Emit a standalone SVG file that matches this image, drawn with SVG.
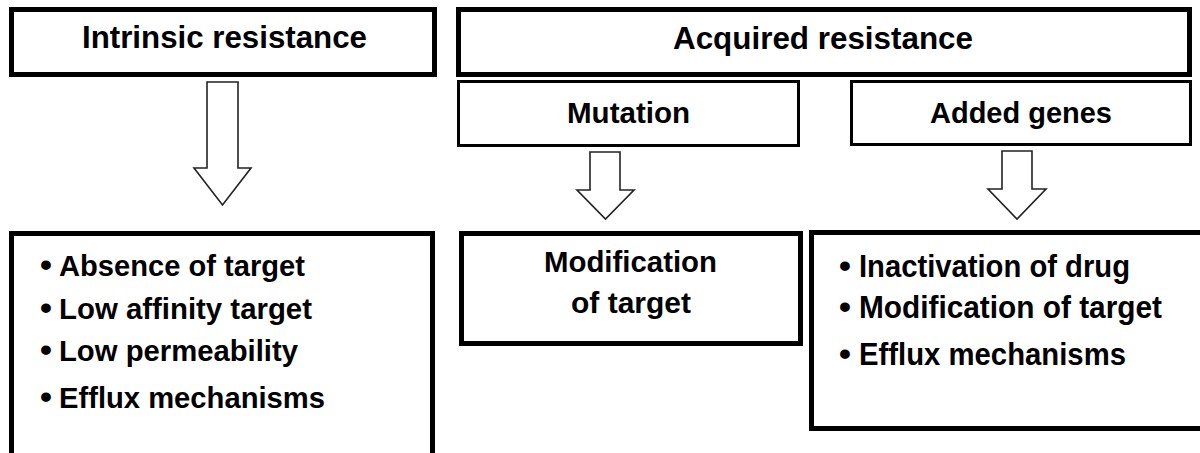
<svg xmlns="http://www.w3.org/2000/svg" width="1200" height="453" viewBox="0 0 1200 453">
  <style>
    .bg { fill: #ffffff; }
    .box-thick { fill: #ffffff; stroke: #000000; stroke-width: 5; }
    .box-thin { fill: #ffffff; stroke: #000000; stroke-width: 3; }
    .open { fill: none; stroke: #000000; stroke-width: 5; }
    .block-arrow { fill: #ffffff; stroke: #222222; stroke-width: 1.6; stroke-linejoin: miter; }
    text { font-family: "Liberation Sans", Arial, sans-serif; font-weight: bold; fill: #000000; }
    .title { font-size: 32px; text-anchor: middle; }
    .sub { font-size: 29px; text-anchor: middle; }
    .item { font-size: 29px; }
    .item-lg { font-size: 30.5px; }
    .dot { font-size: 34px; }
  </style>

  <rect class="bg" x="0" y="0" width="1200" height="453"/>

  <!-- Intrinsic branch -->
  <g id="intrinsic-title">
    <rect class="box-thick" x="11.5" y="9.5" width="423" height="65"/>
    <text class="title" x="224.5" y="48" textLength="285" lengthAdjust="spacingAndGlyphs">Intrinsic resistance</text>
  </g>

  <g id="intrinsic-list">
    <path class="open" d="M11.5,456 V233.5 H432.5 V456"/>
    <text class="item"><tspan class="dot" x="40" y="276">•</tspan><tspan x="59" y="276" textLength="246" lengthAdjust="spacingAndGlyphs">Absence of target</tspan></text>
    <text class="item"><tspan class="dot" x="40" y="319">•</tspan><tspan x="59" y="319" textLength="253" lengthAdjust="spacingAndGlyphs">Low affinity target</tspan></text>
    <text class="item"><tspan class="dot" x="40" y="361">•</tspan><tspan x="59" y="361" textLength="239" lengthAdjust="spacingAndGlyphs">Low permeability</tspan></text>
    <text class="item"><tspan class="dot" x="40" y="408">•</tspan><tspan x="59" y="408" textLength="266" lengthAdjust="spacingAndGlyphs">Efflux mechanisms</tspan></text>
  </g>

  <!-- Acquired branch -->
  <g id="acquired-title">
    <rect class="box-thick" x="458.5" y="9.5" width="731" height="65"/>
    <text class="title" x="823" y="49" textLength="300" lengthAdjust="spacingAndGlyphs">Acquired resistance</text>
  </g>

  <g id="mutation">
    <rect class="box-thin" x="458.5" y="81.5" width="340" height="64"/>
    <text class="sub" x="628.5" y="123" textLength="123" lengthAdjust="spacingAndGlyphs">Mutation</text>
  </g>

  <g id="added-genes">
    <rect class="box-thin" x="851.5" y="81.5" width="339" height="63"/>
    <text class="sub" x="1021" y="123" textLength="182" lengthAdjust="spacingAndGlyphs">Added genes</text>
  </g>

  <g id="modification">
    <rect class="box-thick" x="461.5" y="233.5" width="339" height="110"/>
    <text class="sub" x="630.5" y="272" textLength="173" lengthAdjust="spacingAndGlyphs">Modification</text>
    <text class="sub" x="631" y="313" textLength="120" lengthAdjust="spacingAndGlyphs">of target</text>
  </g>

  <g id="added-genes-list">
    <path class="open" d="M1206,232.5 H811.5 V428.5 H1206"/>
    <text class="item-lg"><tspan class="dot" x="839" y="277">•</tspan><tspan x="859" y="277" textLength="271" lengthAdjust="spacingAndGlyphs">Inactivation of drug</tspan></text>
    <text class="item-lg"><tspan class="dot" x="839" y="318">•</tspan><tspan x="859" y="318" textLength="303" lengthAdjust="spacingAndGlyphs">Modification of target</tspan></text>
    <text class="item-lg"><tspan class="dot" x="839" y="365">•</tspan><tspan x="859" y="365" textLength="267" lengthAdjust="spacingAndGlyphs">Efflux mechanisms</tspan></text>
  </g>

  <!-- Hollow block arrows between levels -->
  <g id="connectors">
    <polygon class="block-arrow" points="207,82 238,82 238,168 251,168 222.5,205 194,168 207,168"/>
    <polygon class="block-arrow" points="590,152 620,152 620,190 634,190 605.5,219 577,190 590,190"/>
    <polygon class="block-arrow" points="1002,151 1032,151 1032,189 1046,189 1017,219 988,189 1002,189"/>
  </g>
</svg>
